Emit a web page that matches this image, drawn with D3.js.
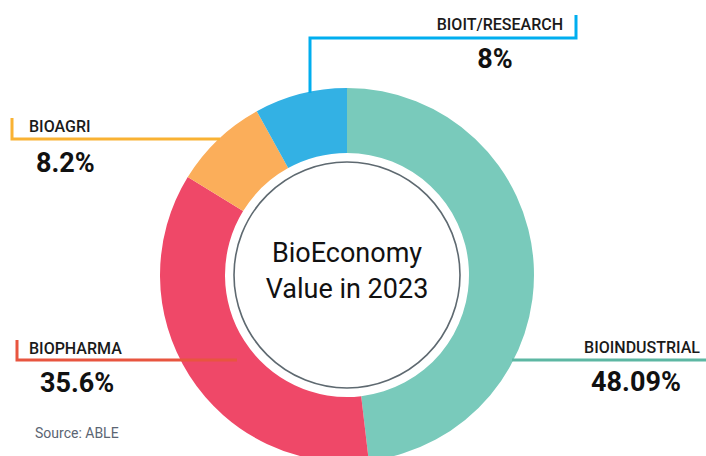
<!DOCTYPE html>
<html>
<head>
<meta charset="utf-8">
<script src="https://cdn.jsdelivr.net/npm/d3@7"></script>
<style>
  html, body { margin: 0; padding: 0; background: #fff; }
  svg { display: block; }
</style>
</head>
<body>
<svg id="chart" width="706" height="456"></svg>
<script>
// data
const categories = ["BIOINDUSTRIAL", "BIOPHARMA", "BIOAGRI", "BIOIT/RESEARCH"];
const shares = [48.09, 35.6, 8.2, 8];
const shareLabels = ["48.09%", "35.6%", "8.2%", "8%"];
const centerTitle = ["BioEconomy", "Value in 2023"];
const sourceNote = "Source: ABLE";

// styling
const sliceColors = ["#79cabb", "#ef4868", "#fbae5a", "#33b1e4"];
const lineColors = ["#5db7a3", "#e8553f", "#f9b233", "#00aeef"];

const svg = d3.select("#chart");
const width = +svg.attr("width");
const height = +svg.attr("height");

svg.append("rect")
  .attr("width", width)
  .attr("height", height)
  .attr("fill", "#fff");

const cx = 347, cy = 275;
const outerR = 187, innerR = 122, ringR = 113;

const pie = d3.pie().sort(null).value(d => d);
const arcs = pie(shares);
const arc = d3.arc().innerRadius(innerR).outerRadius(outerR);

const g = svg.append("g").attr("transform", `translate(${cx},${cy})`);

g.selectAll("path.slice")
  .data(arcs)
  .join("path")
  .attr("class", "slice")
  .attr("d", arc)
  .attr("fill", (d, i) => sliceColors[i]);

// inner ring
g.append("circle")
  .attr("r", ringR)
  .attr("fill", "#fff")
  .attr("stroke", "#5e6970")
  .attr("stroke-width", 1.6);

g.selectAll("text.title")
  .data(centerTitle)
  .join("text")
  .attr("class", "title")
  .attr("x", 0)
  .attr("y", (d, i) => -13 + i * 36)
  .attr("text-anchor", "middle")
  .attr("font-family", "Roboto, sans-serif")
  .attr("font-size", 27)
  .attr("fill", "#111")
  .text(d => d);

// leader lines + labels, layout per category
const layout = [
  { line: [[512, 360], [706, 360]], name: [700, 353, "end"], value: [636, 391, "middle"] },
  { line: [[17, 340], [17, 360], [237, 360]], name: [29, 354, "start"], value: [40, 392, "start"] },
  { line: [[12, 118], [12, 139], [220, 139]], name: [29, 132, "start"], value: [36, 172, "start"] },
  { line: [[576, 15], [576, 38], [310, 38], [310, 93]], name: [563, 30, "end"], value: [495, 68, "middle"] }
];

const line = d3.line();

const labels = svg.selectAll("g.label")
  .data(categories)
  .join("g")
  .attr("class", "label");

labels.append("path")
  .attr("d", (d, i) => line(layout[i].line))
  .attr("fill", "none")
  .attr("stroke", (d, i) => lineColors[i])
  .attr("stroke-width", 3);

labels.append("text")
  .attr("x", (d, i) => layout[i].name[0])
  .attr("y", (d, i) => layout[i].name[1])
  .attr("text-anchor", (d, i) => layout[i].name[2])
  .attr("font-family", "Roboto, sans-serif")
  .attr("font-size", 16)
  .attr("font-weight", 500)
  .attr("fill", "#1a1a1a")
  .text(d => d);

labels.append("text")
  .attr("x", (d, i) => layout[i].value[0])
  .attr("y", (d, i) => layout[i].value[1])
  .attr("text-anchor", (d, i) => layout[i].value[2])
  .attr("font-family", "Roboto, sans-serif")
  .attr("font-size", 27)
  .attr("font-weight", 700)
  .attr("fill", "#111")
  .text((d, i) => shareLabels[i]);

svg.append("text")
  .attr("x", 35)
  .attr("y", 438)
  .attr("font-family", "Roboto, sans-serif")
  .attr("font-size", 14)
  .attr("fill", "#5b6573")
  .text(sourceNote);
</script>
</body>
</html>
